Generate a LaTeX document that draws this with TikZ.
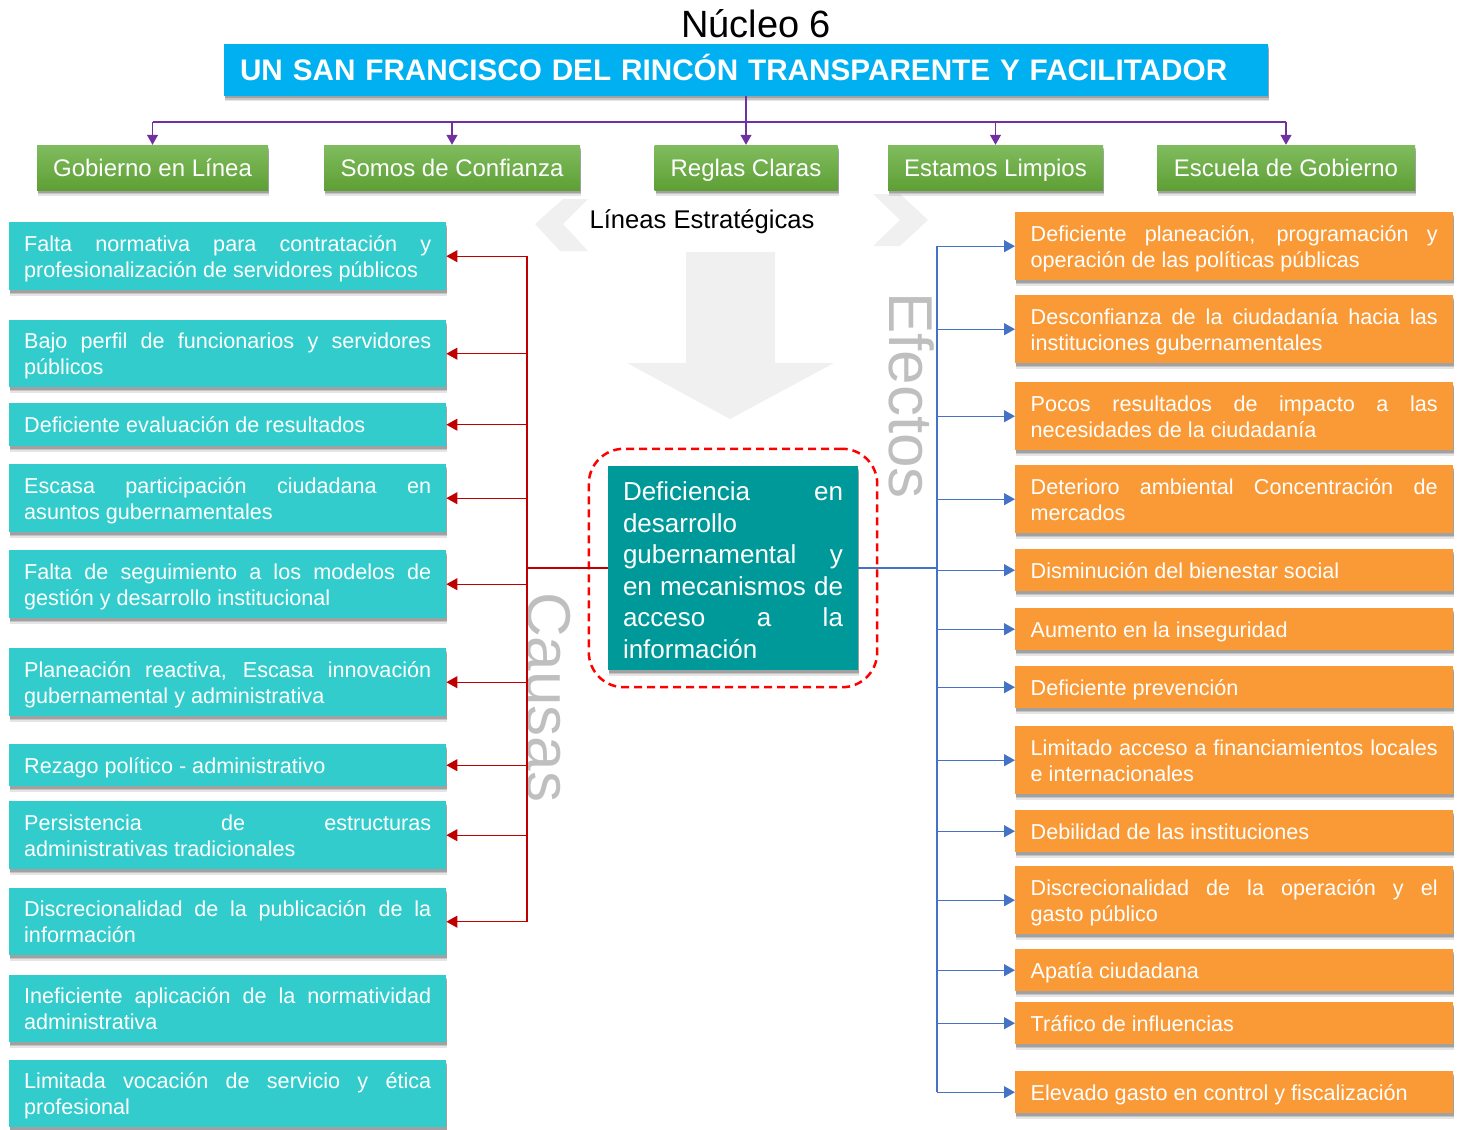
\documentclass[tikz,border=0pt]{standalone}
\usepackage{fontspec}
\setmainfont{Liberation Sans}
\usetikzlibrary{arrows.meta,shadows,fit}
\definecolor{bannerblue}{HTML}{00B0F0}
\definecolor{gtop}{HTML}{80BC5E}
\definecolor{gbot}{HTML}{5E9F35}
\definecolor{cyanbox}{HTML}{33CCCC}
\definecolor{orangebox}{HTML}{FA9A37}
\definecolor{tealbox}{HTML}{009999}
\definecolor{redline}{HTML}{C00000}
\definecolor{blueline}{HTML}{4472C4}
\definecolor{purpleline}{HTML}{7030A0}
\definecolor{ghost}{HTML}{F0F0F0}
\definecolor{labelgray}{HTML}{BFBFBF}
\newcommand{\topstrut}{\rule{0pt}{20.5pt}}
\newcommand{\botstrut}{\rule[-4.5pt]{0pt}{4.5pt}}
\tikzset{
  boxshadow/.style={
    general shadow={fill=black, opacity=0.10, shadow xshift=1pt, shadow yshift=-5.5pt},
    general shadow={fill=black, opacity=0.14, shadow xshift=1pt, shadow yshift=-4pt},
    general shadow={fill=black, opacity=0.18, shadow xshift=1pt, shadow yshift=-2.5pt}},
  causebox/.style={fill=cyanbox, text=white, anchor=north west, text width=407pt, inner xsep=15pt, inner ysep=0pt, align=justify, font=\fontsize{21.6}{26}\selectfont, execute at begin node=\topstrut, execute at end node=\botstrut, boxshadow},
  effectbox/.style={fill=orangebox, text=white, anchor=north west, text width=407pt, inner xsep=15.5pt, inner ysep=0pt, align=justify, font=\fontsize{21.6}{26}\selectfont, execute at begin node=\topstrut, execute at end node=\botstrut, boxshadow},
  linebox/.style={top color=gtop, bottom color=gbot, text=white, minimum height=45pt, inner sep=0pt, text height=19.5pt, text depth=2.5pt, font=\fontsize{24}{28}\selectfont, boxshadow},
  redconn/.style={draw=redline, line width=1.2pt},
  redarrow/.style={redconn, -{Triangle[length=11pt,width=12pt]}},
  blueconn/.style={draw=blueline, line width=1.2pt},
  bluearrow/.style={blueconn, -{Triangle[length=11pt,width=12pt]}},
  purpleconn/.style={draw=purpleline, line width=1.2pt},
  purplearrow/.style={purpleconn, -{Triangle[length=10pt,width=11pt]}},
  sidelabel/.style={text=labelgray, rotate=-90, anchor=base west, inner sep=0pt, font=\fontsize{62}{62}\selectfont},
}
\begin{document}
\begin{tikzpicture}[x=1pt,y=-1pt]
\useasboundingbox (0,0) rectangle (1463,1129);
% background ghost shapes
\fill[ghost] (563,199) -- (588,199) -- (563,224) -- (588,251) -- (560,251) -- (535,224) -- cycle;
\fill[ghost] (873,194) -- (900,194) -- (928,220) -- (900,246) -- (873,246) -- (900,220) -- cycle;
\fill[ghost] (686,252) -- (775,252) -- (775,363) -- (834,363) -- (730,419) -- (627,363) -- (686,363) -- cycle;
% side labels
\node[sidelabel] (efectos) at (889,292) {Efectos};
\node[sidelabel] (causas) at (527,592) {Causas};
% title
\node[anchor=base, inner sep=0pt, font=\fontsize{38}{40}\selectfont] (title) at (756,38) {Núcleo 6};
\node[fill=bannerblue, text=white, minimum height=52pt, text width=1012pt, inner xsep=16pt, inner ysep=0pt, text height=21.5pt, text depth=0pt, align=left, font=\fontsize{29.7}{34}\selectfont\bfseries, boxshadow] (banner) at (746,70) {UN SAN FRANCISCO DEL RINCÓN TRANSPARENTE Y FACILITADOR};
% strategic lines
\node[linebox, minimum width=231pt] (g1) at (152.5,167.5) {Gobierno en Línea};
\node[linebox, minimum width=256pt] (g2) at (452,167.5) {Somos de Confianza};
\node[linebox, minimum width=183pt] (g3) at (746,167.5) {Reglas Claras};
\node[linebox, minimum width=215pt] (g4) at (995.5,167.5) {Estamos Limpios};
\node[linebox, minimum width=258pt] (g5) at (1286,167.5) {Escuela de Gobierno};
\node[anchor=base, inner sep=0pt, font=\fontsize{25.6}{28}\selectfont] (lineas) at (702,228) {Líneas Estratégicas};
\coordinate (hub) at (746,122);
\draw[purpleconn] (g1.north |- hub) -- (g5.north |- hub);
\draw[purplearrow] (banner.south) -- (g3.north);
\draw[purplearrow] (g1.north |- hub) -- (g1.north);
\draw[purplearrow] (g2.north |- hub) -- (g2.north);
\draw[purplearrow] (g4.north |- hub) -- (g4.north);
\draw[purplearrow] (g5.north |- hub) -- (g5.north);
% core problem
\node[fill=tealbox, text=white, minimum height=204pt, text width=220pt, inner xsep=15pt, inner ysep=0pt, align=justify, font=\fontsize{26}{31.5}\selectfont, execute at begin node=\rule{0pt}{23pt}, boxshadow] (core) at (733,568) {Deficiencia en\linebreak desarrollo\newline gubernamental y\linebreak en mecanismos de\linebreak acceso a la\linebreak información};
\node[fit=(core), inner xsep=19pt, inner ysep=17pt, draw=red, dashed, dash pattern=on 8pt off 5pt, line width=2.5pt, rounded corners=35pt] (frame) {};
% causes
\node[causebox, minimum height=68pt] (c1) at (9,222) {Falta normativa para contratación y\linebreak profesionalización de servidores públicos};
\node[causebox, minimum height=67pt] (c2) at (9,320) {Bajo perfil de funcionarios y servidores\linebreak públicos};
\node[causebox, minimum height=43pt] (c3) at (9,403) {Deficiente evaluación de resultados};
\node[causebox, minimum height=68pt] (c4) at (9,464) {Escasa participación ciudadana en\linebreak asuntos gubernamentales};
\node[causebox, minimum height=68pt] (c5) at (9,550) {Falta de seguimiento a los modelos de\linebreak gestión y desarrollo institucional};
\node[causebox, minimum height=68pt] (c6) at (9,648) {Planeación reactiva, Escasa innovación\linebreak gubernamental y administrativa};
\node[causebox, minimum height=42pt] (c7) at (9,744) {Rezago político - administrativo};
\node[causebox, minimum height=68pt] (c8) at (9,801) {Persistencia de estructuras\linebreak administrativas tradicionales};
\node[causebox, minimum height=67pt] (c9) at (9,888) {Discrecionalidad de la publicación de la\linebreak información};
\node[causebox, minimum height=67pt] (c10) at (9,975) {Ineficiente aplicación de la normatividad\linebreak administrativa};
\node[causebox, minimum height=67pt] (c11) at (9,1060) {Limitada vocación de servicio y ética\linebreak profesional};
\coordinate (rv) at (527,570);
\draw[redconn] (c1.east -| rv) -- (c9.east -| rv);
\draw[redconn, line width=2pt] (core.west) -- (core.west -| rv);
\foreach \c in {c1,c2,c3,c4,c5,c6,c7,c8,c9}
  \draw[redarrow] (\c.east -| rv) -- (\c.east);
% effects
\node[effectbox, minimum height=68pt] (e1) at (1015,212) {Deficiente planeación, programación y\linebreak operación de las políticas públicas};
\node[effectbox, minimum height=68pt] (e2) at (1015,295) {Desconfianza de la ciudadanía hacia las\linebreak instituciones gubernamentales};
\node[effectbox, minimum height=68pt] (e3) at (1015,382) {Pocos resultados de impacto a las\linebreak necesidades de la ciudadanía};
\node[effectbox, minimum height=68pt] (e4) at (1015,465) {Deterioro ambiental Concentración de\linebreak mercados};
\node[effectbox, minimum height=42pt] (e5) at (1015,549) {Disminución del bienestar social};
\node[effectbox, minimum height=42pt] (e6) at (1015,608) {Aumento en la inseguridad};
\node[effectbox, minimum height=42pt] (e7) at (1015,666) {Deficiente prevención};
\node[effectbox, minimum height=68pt] (e8) at (1015,726) {Limitado acceso a financiamientos locales\linebreak e internacionales};
\node[effectbox, minimum height=42pt] (e9) at (1015,810) {Debilidad de las instituciones};
\node[effectbox, minimum height=68pt] (e10) at (1015,866) {Discrecionalidad de la operación y el\linebreak gasto público};
\node[effectbox, minimum height=42pt] (e11) at (1015,949) {Apatía ciudadana};
\node[effectbox, minimum height=42pt] (e12) at (1015,1002) {Tráfico de influencias};
\node[effectbox, minimum height=42pt] (e13) at (1015,1071) {Elevado gasto en control y fiscalización};
\coordinate (bv) at (937,570);
\draw[blueconn] (e1.west -| bv) -- (e13.west -| bv);
\draw[blueconn] (core.east) -- (core.east -| bv);
\foreach \e in {e1,e2,e3,e4,e5,e6,e7,e8,e9,e10,e11,e12,e13}
  \draw[bluearrow] (\e.west -| bv) -- (\e.west);
\end{tikzpicture}
\end{document}
